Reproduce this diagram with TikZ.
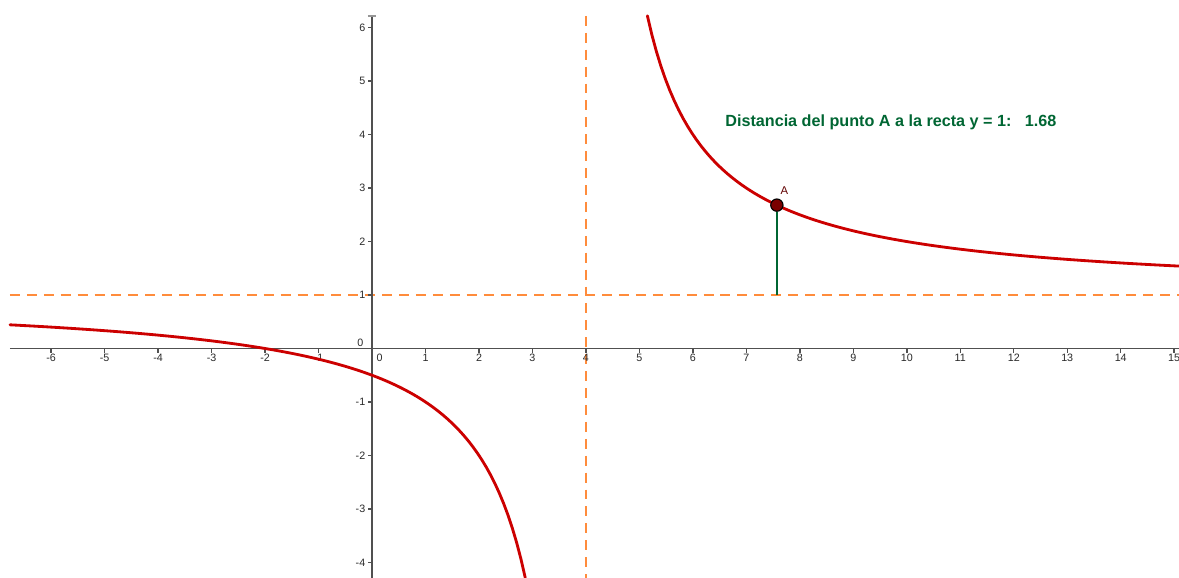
\documentclass[tikz,border=0pt]{standalone}
\usepackage{fontspec}
\setmainfont{Liberation Sans}
\usepackage{tikz}
\usetikzlibrary{positioning}
\definecolor{ggRed}{HTML}{CC0000}
\definecolor{ggOrange}{HTML}{FF8C3C}
\definecolor{ggGreen}{HTML}{006633}
\definecolor{ggPoint}{HTML}{7A0000}
\definecolor{ggAxis}{HTML}{505050}
\definecolor{ggText}{HTML}{2A2A2A}
\newcommand{\tickfont}{\fontsize{5.7}{6.5}\selectfont}
\tikzset{
  axisline/.style={draw=ggAxis,line width=1.05pt},
  tickmark/.style={draw=ggAxis,line width=0.75pt},
  ticklbl/.style={font=\tickfont,text=ggText,inner sep=0pt},
  asymline/.style={draw=ggOrange,line width=1.05pt,dash pattern=on 5.3pt off 3.7pt},
  curve/.style={draw=ggRed,line width=1.5pt,line cap=round},
  distseg/.style={draw=ggGreen,line width=1pt},
  ptA/.style={circle,draw=black,fill=ggPoint,line width=0.6pt,
    minimum size=0.23cm,inner sep=0pt},
  ptlabel/.style={font=\fontsize{6}{7}\selectfont,text=ggPoint!80!black,inner sep=0pt},
  infotext/.style={font=\fontsize{8.6}{10}\selectfont\bfseries,text=ggGreen,
    anchor=west,inner sep=0pt}
}

\begin{document}
\begin{tikzpicture}
  \fill[white] (-6.957,-4.288) rectangle (15.09,6.517);
  \useasboundingbox (-6.957,-4.288) rectangle (15.09,6.517);

  % asymptotes
  \draw[asymline] (-6.77,1) -- (15.09,1);
  \draw[asymline] (4,6.22) -- (4,-4.288);

  % axes
  \draw[axisline] (-6.77,0) -- (15.09,0);
  \draw[axisline] (0,-4.288) -- (0,6.22);
  \draw[tickmark,draw=ggAxis!60] (-0.08,6.22) -- (0.08,6.22);
  \foreach \x in {-6,...,-1,1,2,...,15} {
    \draw[tickmark] (\x,0) -- (\x,-0.075);
    \node[ticklbl] (xl\x) at (\x,-0.175) {\x};
  }
  \foreach \y in {-4,...,-1,1,2,...,6} {
    \draw[tickmark] (0,\y) -- (-0.075,\y);
    \node[ticklbl,anchor=east] (yl\y) at (-0.12,\y) {\y};
  }
  \node[ticklbl] (xl0) at (0.14,-0.175) {0};
  \node[ticklbl] (yl0) at (-0.22,0.11) {0};

  % f(x) = 1 + 6/(x-4)
  \draw[curve] plot[domain=-6.77:2.866,samples=120] (\x,{1+6/(\x-4)});
  \draw[curve] plot[domain=5.149:15.09,samples=120] (\x,{1+6/(\x-4)});

  % point A and its distance to y = 1
  \coordinate (foot) at (7.57,1);
  \node[ptA] (A) at (7.57,2.681) {};
  \draw[distseg] (A) -- (foot);
  \node[ptlabel] (Alabel) at (7.71,2.96) {A};

  \node[infotext] (info) at (6.6,4.23) {Distancia del punto A a la recta y = 1:\ \ \ 1.68};
\end{tikzpicture}
\end{document}
